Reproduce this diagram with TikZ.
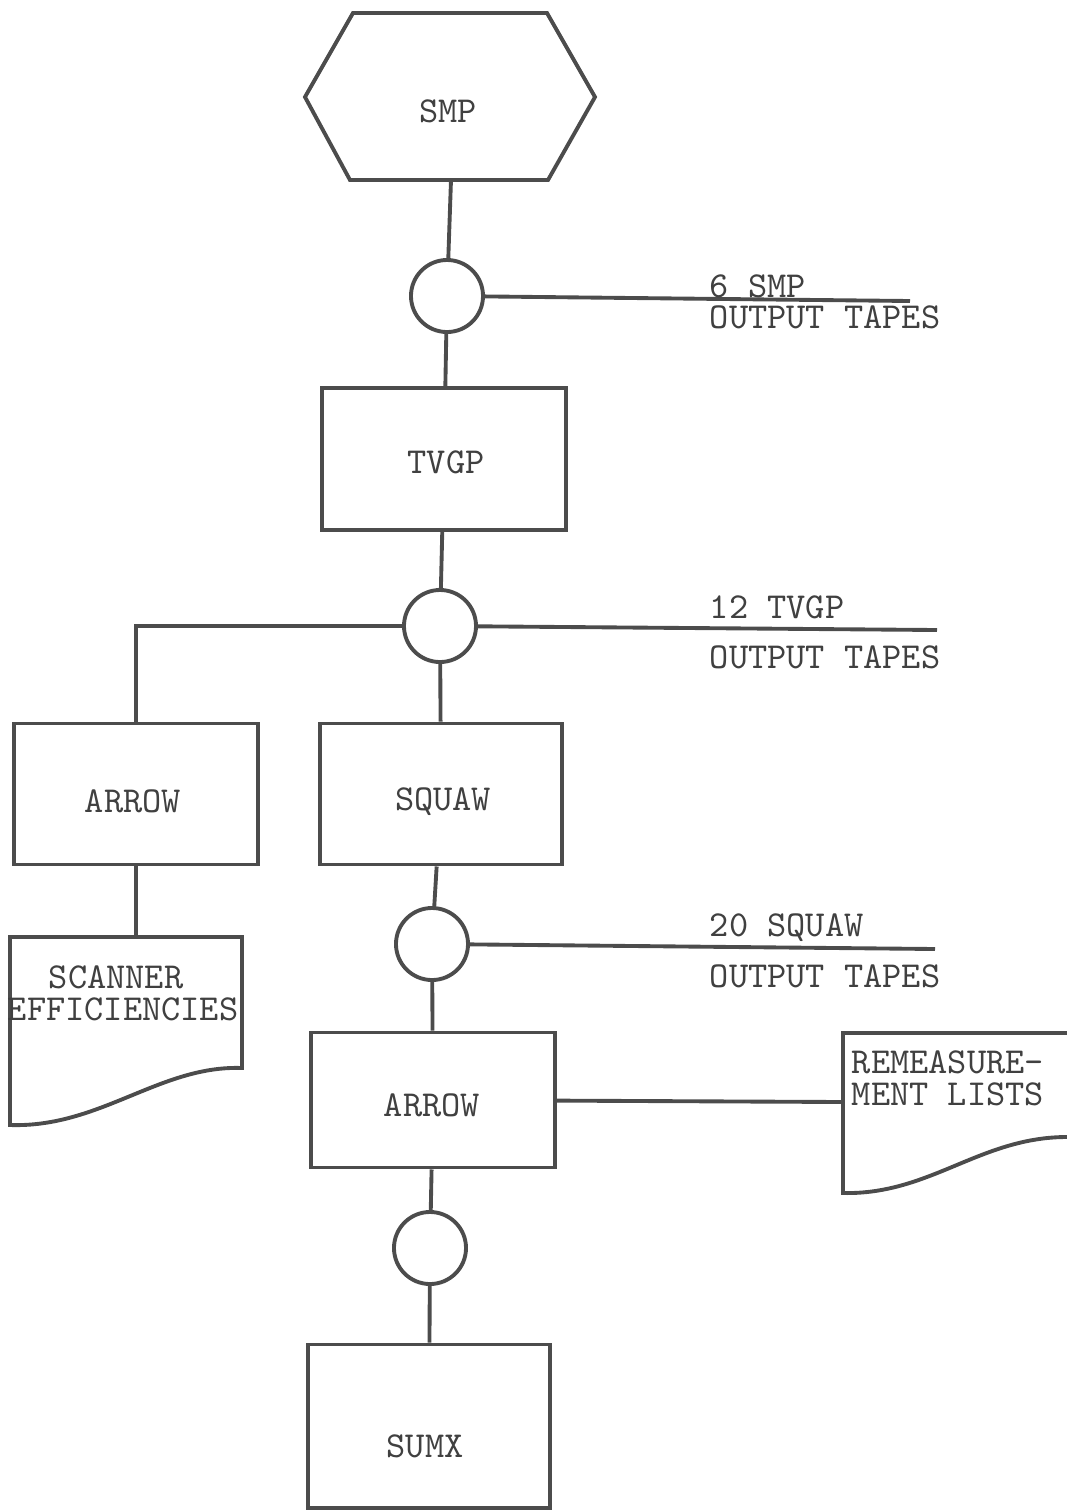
\documentclass[tikz,border=0pt]{standalone}
\usepackage{tikz}
\usetikzlibrary{positioning, calc}

\tikzset{
	proc/.style={draw, minimum width=2.43cm, minimum height=1.41cm, inner sep=0pt},
	tapec/.style={draw, circle, minimum size=0.72cm, inner sep=0pt},
	txt/.style={anchor=base, inner sep=0pt, text=black!75},
	txtw/.style={anchor=base west, inner sep=0pt, text=black!75},
}

\begin{document}
\begin{tikzpicture}[x=0.01cm, y=-0.01cm, line width=1.1pt, draw=black!70,
		font=\ttfamily\fontsize{10.4}{12}\selectfont]
	\useasboundingbox (0,0) rectangle (1067,1511);
	% program boxes and tapes
	\draw (305,97) -- (353,13) -- (547,13) -- (595,97) -- (548,180) -- (350,180) -- cycle;
	\coordinate (smpS) at (451,180);
	\node[tapec] (c1) at (447,296) {};
	\node[proc, minimum width=2.44cm, minimum height=1.42cm] (tvgp) at (444,459) {};
	\node[tapec] (c2) at (440,626) {};
	\node[proc, minimum width=2.44cm] (arrowA) at (136,794) {};
	\node[proc, minimum width=2.42cm] (squaw) at (441,794) {};
	\node[tapec] (c3) at (432,944) {};
	\node[proc, minimum height=1.35cm] (arrowB) at (433,1100) {};
	\node[tapec] (c4) at (430,1248) {};
	\node[proc, minimum width=2.42cm, minimum height=1.63cm] (sumx) at (429,1426) {};
	% documents
	\draw (10,937) -- (242,937) -- (242,1068) .. controls (160,1065) and (100,1128) .. (10,1125) -- cycle;
	\coordinate (scanN) at (136,937);
	\draw (1100,1033) -- (843,1033) -- (843,1193) .. controls (930,1195) and (980,1137) .. (1067,1137) -- (1100,1137);
	\coordinate (remW) at (843,1102);
	% tape lines
	\coordinate (out1) at (910,301);
	\coordinate (out2) at (937,630);
	\coordinate (out3) at (935,949);
	% connectors
	\draw (smpS) -- (c1);
	\draw (c1) -- (tvgp);
	\draw (tvgp) -- (c2);
	\draw (c2) -- (squaw);
	\draw (squaw) -- (c3);
	\draw (c3) -- (arrowB);
	\draw (arrowB) -- (c4);
	\draw (c4) -- (sumx);
	\draw (c2) -| (arrowA);
	\draw (arrowA) -- (scanN);
	\draw (arrowB) -- (remW);
	\draw (c1) -- (out1);
	\draw (c2) -- (out2);
	\draw (c3) -- (out3);
	% texts
	\node[txt] (tsmp) at (448,122) {SMP};
	\node[txt] (ttvgp) at (446,473) {TVGP};
	\node[txt] (tarrowA) at (133,812) {ARROW};
	\node[txt] (tsquaw) at (443,810) {SQUAW};
	\node[txt] (tarrowB) at (432,1116) {ARROW};
	\node[txt] (tsumx) at (425,1457) {SUMX};
	\node[txtw] (l1a) at (708,297) {6 SMP};
	\node[txtw] (l1b) at (708,328) {OUTPUT TAPES};
	\node[txtw] (l2a) at (708,618) {12 TVGP};
	\node[txtw] (l2b) at (708,668) {OUTPUT TAPES};
	\node[txtw] (l3a) at (708,936) {20 SQUAW};
	\node[txtw] (l3b) at (708,987) {OUTPUT TAPES};
	\node[txtw] (sc1) at (47,988) {SCANNER};
	\node[txtw] (sc2) at (6,1020) {EFFICIENCIES};
	\node[txtw] (rm1) at (850,1073) {REMEASURE-};
	\node[txtw] (rm2) at (850,1105) {MENT LISTS};
\end{tikzpicture}
\end{document}
